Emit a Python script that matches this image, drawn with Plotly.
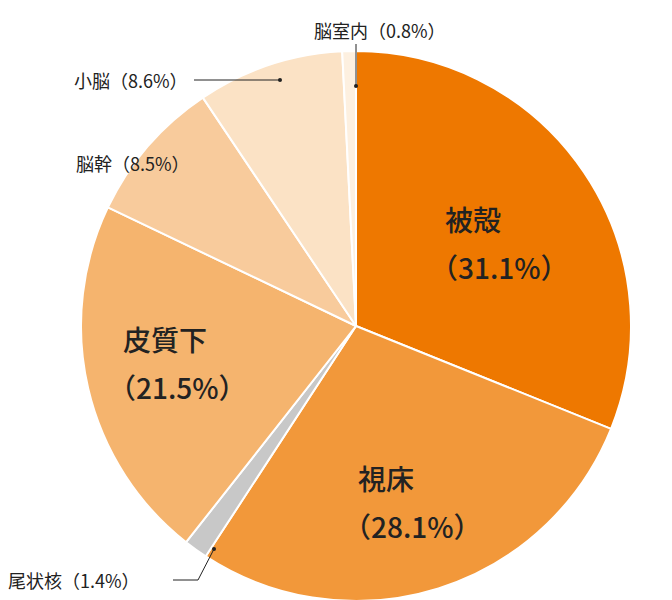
import plotly.graph_objects as go

labels = ["被殻", "視床", "尾状核", "皮質下", "脳幹", "小脳", "脳室内"]
values = [31.1, 28.1, 1.4, 21.5, 8.5, 8.6, 0.8]
colors = ["#EE7800", "#F2983A", "#C8C8C8", "#F5B46E", "#F8CB9C", "#FBE2C5", "#FDF0E0"]

W, H = 672, 600
def px(x): return x / W
def py(y): return 1 - y / H

fig = go.Figure(go.Pie(
    labels=labels, values=values, sort=False, direction="clockwise", rotation=0,
    marker=dict(colors=colors, line=dict(color="white", width=2)),
    textinfo="none", hoverinfo="label+percent", showlegend=False,
    domain=dict(x=[px(73), px(623)], y=[py(594), py(42)]),
))

F = "Noto Sans CJK JP, sans-serif"
big = dict(family=F, size=28, color="#222", weight=500)
small = dict(family=F, size=18, color="#222")
ann = []
def t(text, x, y, font, xa="left"):
    ann.append(dict(text=text, x=px(x), y=py(y), xref="paper", yref="paper",
                    xanchor=xa, yanchor="middle", showarrow=False, font=font))
def lab(i, x, y):
    t(labels[i], x + 3, y - 24, big)
    t(f"（{values[i]}%）", x - 12, y + 24, big)
lab(0, 432, 235)
lab(1, 345, 494)
lab(3, 110, 355)
def sl(i, x, y, xa):
    t(f"{labels[i]}（{values[i]}%）", x, y, small, xa)
sl(6, 372, 22, "center")
sl(5, 182, 72, "right")
sl(4, 184, 155, "right")
sl(2, -2, 572, "left")

shapes = []
def line(pts):
    path = "M " + " L ".join(f"{px(a)},{py(b)}" for a, b in pts)
    shapes.append(dict(type="path", path=path, xref="paper", yref="paper", line=dict(color="#222", width=1)))
line([(348, 36), (348, 78)])
line([(186, 72), (272, 72)])
line([(165, 572), (190, 572), (206, 541)])
for (cx, cy) in [(348, 78), (272, 72), (206, 541)]:
    shapes.append(dict(type="circle", xref="paper", yref="paper", x0=px(cx-2), x1=px(cx+2), y0=py(cy+2), y1=py(cy-2),
                       fillcolor="#222", line=dict(width=0)))

fig.update_layout(width=W, height=H, margin=dict(l=0, r=0, t=0, b=0), paper_bgcolor="white",
                  annotations=ann, shapes=shapes)
fig.write_html("out.html")
